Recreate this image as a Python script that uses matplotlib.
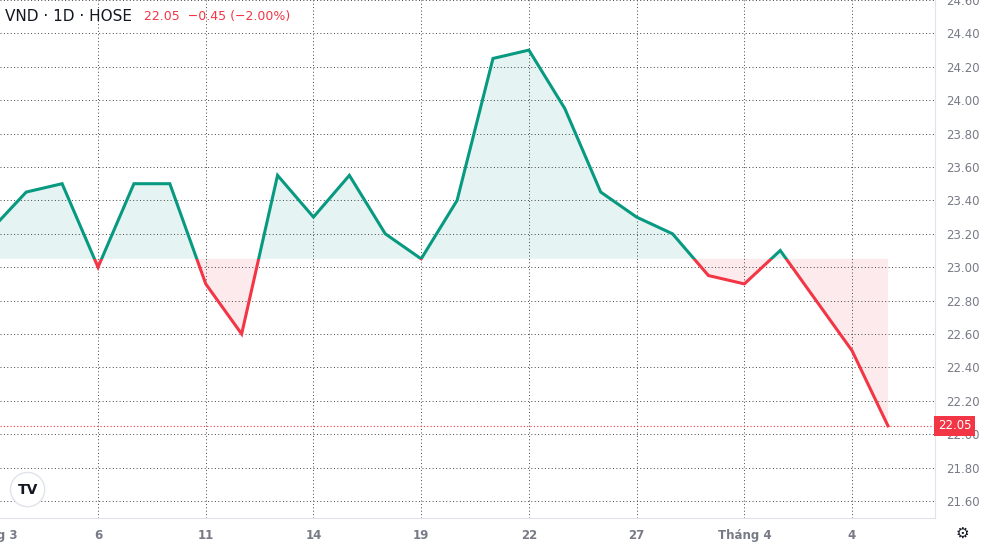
import matplotlib
matplotlib.use("Agg")
import matplotlib.pyplot as plt
import numpy as np
from matplotlib.patches import Rectangle

values = [23.22, 23.45, 23.5, 23.0, 23.5, 23.5, 22.9, 22.6, 23.55, 23.3, 23.55, 23.2, 23.05,
          23.4, 24.25, 24.3, 23.95, 23.45, 23.3, 23.2, 22.95, 22.9, 23.1, 22.8, 22.5, 22.05]
tick_idx = [0, 3, 6, 9, 12, 15, 18, 21, 24]
tick_labels = ["Tháng 3", "6", "11", "14", "19", "22", "27", "Tháng 4", "4"]
base = 23.05
last = 22.05
GREEN = "#089981"; RED = "#f23645"

fig = plt.figure(figsize=(9.85, 5.47), dpi=100)
ax = fig.add_axes([0, 29/547, 935/985, 518/547])
x = np.arange(len(values))
y = np.array(values)

ax.fill_between(x, y, base, where=y >= base, interpolate=True, color=GREEN, alpha=0.1, lw=0)
ax.fill_between(x, y, base, where=y <= base, interpolate=True, color=RED, alpha=0.1, lw=0)
for col, rect in [(GREEN, (-5, base, 40, 10)), (RED, (-5, base - 10, 40, 10))]:
    l, = ax.plot(x, y, color=col, lw=2.2, solid_joinstyle="miter")
    r = Rectangle(rect[:2], rect[2], rect[3], transform=ax.transData)
    l.set_clip_path(r)

ax.axhline(last, color=RED, lw=0.8, ls=(0, (1, 2)))
ax.set_xticks(tick_idx[1:])
ax.set_xticklabels(tick_labels[1:])
yt = np.arange(21.6, 24.61, 0.2)
ax.set_yticks(yt)
ax.set_yticklabels([f"{v:.2f}" for v in yt])
ax.set_xlim(0.27, 26.31)
ax.set_ylim(24.6 - 518/167, 24.6)
ax.yaxis.tick_right()
ax.tick_params(axis="both", length=0, colors="#787b86", labelsize=8.5)
ax.tick_params(axis="y", pad=8)
ax.tick_params(axis="x", pad=8)
for lbl in ax.get_xticklabels():
    lbl.set_fontweight("bold")
# first month label, partly outside the view as in the reference
ax.annotate(tick_labels[0], xy=(tick_idx[0], 0), xycoords=("data", "axes fraction"),
            xytext=(0, -8), textcoords="offset points", ha="center", va="top",
            fontsize=8.5, fontweight="bold", color="#787b86", annotation_clip=False)
ax.grid(True, color="#444444", lw=0.7, ls=(0, (1, 2.5)))
for s in ["top", "left"]:
    ax.spines[s].set_visible(False)
for s in ["right", "bottom"]:
    ax.spines[s].set_color("#e0e3eb")

ax.text(1.003, (last - ax.get_ylim()[0]) / (24.6 - ax.get_ylim()[0]), f"{last:.2f}",
        transform=ax.transAxes, ha="left", va="center", color="white", fontsize=8.5,
        bbox=dict(boxstyle="square,pad=0.3", fc=RED, ec="none"), zorder=5)
fig.text(0.005, 0.97, "VND · 1D · HOSE", fontsize=11, color="#131722", va="center")
fig.text(0.146, 0.97, "22.05  −0.45 (−2.00%)", fontsize=9, color=RED, va="center")
fig.text(0.028, 0.105, "TV", fontsize=10, fontweight="bold", color="#131722", ha="center", va="center",
         bbox=dict(boxstyle="circle,pad=0.5", fc="white", ec="#e0e3eb"))
fig.text(0.977, 0.025, "⚙", fontsize=11, color="#131722", ha="center", va="center")
fig.savefig("out.png", dpi=100, facecolor="white")
